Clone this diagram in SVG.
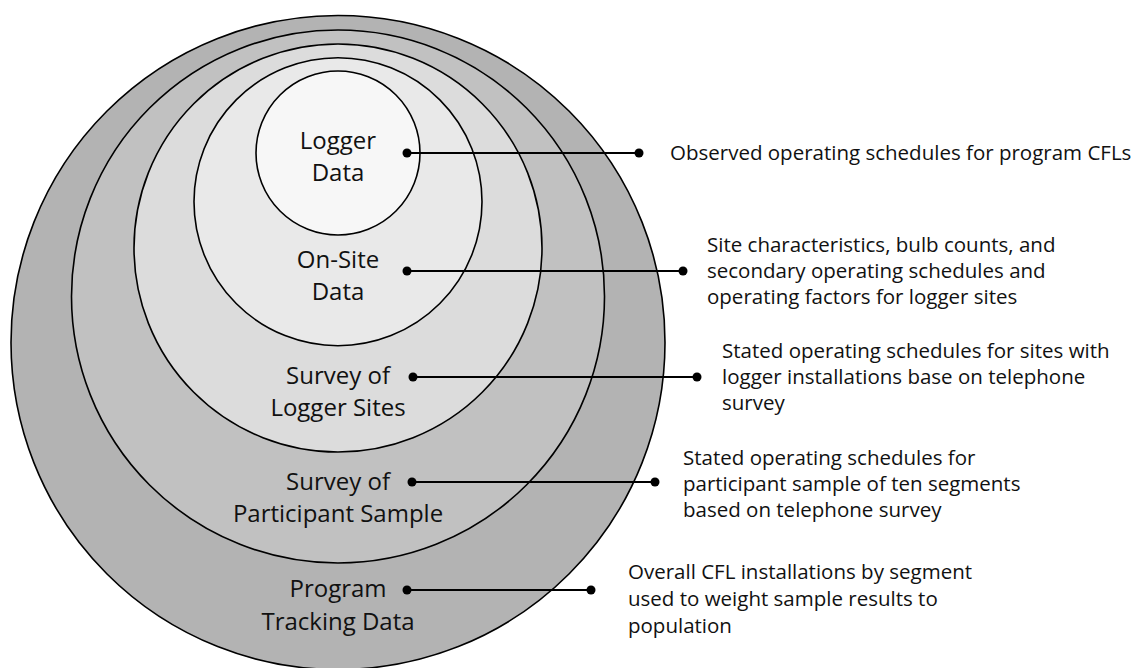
<svg xmlns="http://www.w3.org/2000/svg" width="1145" height="668" viewBox="0 0 1145 668">
  <style>
    .ring { stroke: #000; stroke-width: 1.6; }
    .lbl { font-family: "Open Sans", "Noto Sans", sans-serif; font-size: 24px; fill: #111; text-anchor: middle; }
    .note { font-family: "Open Sans", "Noto Sans", sans-serif; font-size: 20.5px; fill: #111; }
    .wire { stroke: #000; stroke-width: 2; fill: none; }
    .dot { fill: #000; }
  </style>
  <rect width="1145" height="668" fill="#fff"/>

  <!-- nested data-source rings, outermost first -->
  <g id="program-tracking">
    <circle class="ring" cx="338" cy="342.5" r="327" fill="#b3b3b3"/>
    <text class="lbl" x="338" y="597">Program</text>
    <text class="lbl" x="338" y="630">Tracking Data</text>
  </g>
  <g id="participant-survey">
    <circle class="ring" cx="338" cy="296.5" r="266.5" fill="#c1c1c1"/>
    <text class="lbl" x="338" y="490">Survey of</text>
    <text class="lbl" x="338" y="522">Participant Sample</text>
  </g>
  <g id="logger-site-survey">
    <circle class="ring" cx="338" cy="248" r="204" fill="#dcdcdc"/>
    <text class="lbl" x="338" y="384">Survey of</text>
    <text class="lbl" x="338" y="416">Logger Sites</text>
  </g>
  <g id="on-site-data">
    <circle class="ring" cx="338" cy="201.7" r="144" fill="#e9e9e9"/>
    <text class="lbl" x="338" y="268">On-Site</text>
    <text class="lbl" x="338" y="300">Data</text>
  </g>
  <g id="logger-data">
    <circle class="ring" cx="338" cy="153" r="82" fill="#f7f7f7"/>
    <text class="lbl" x="338" y="149">Logger</text>
    <text class="lbl" x="338" y="181">Data</text>
  </g>

  <!-- leader lines from each ring to its description -->
  <g id="connectors">
    <line class="wire" x1="407" y1="153" x2="639" y2="153"/>
    <circle class="dot" cx="407" cy="153" r="4.5"/>
    <circle class="dot" cx="639" cy="153" r="4.5"/>

    <line class="wire" x1="407" y1="271" x2="683" y2="271"/>
    <circle class="dot" cx="407" cy="271" r="4.5"/>
    <circle class="dot" cx="683" cy="271" r="4.5"/>

    <line class="wire" x1="413" y1="377" x2="697" y2="377"/>
    <circle class="dot" cx="413" cy="377" r="4.5"/>
    <circle class="dot" cx="697" cy="377" r="4.5"/>

    <line class="wire" x1="412" y1="482" x2="655" y2="482"/>
    <circle class="dot" cx="412" cy="482" r="4.5"/>
    <circle class="dot" cx="655" cy="482" r="4.5"/>

    <line class="wire" x1="407" y1="590" x2="591" y2="590"/>
    <circle class="dot" cx="407" cy="590" r="4.5"/>
    <circle class="dot" cx="591" cy="590" r="4.5"/>
  </g>

  <!-- descriptions -->
  <g id="note-logger">
    <text class="note" x="670" y="160">Observed operating schedules for program CFLs</text>
  </g>
  <g id="note-onsite">
    <text class="note" x="707" y="252">Site characteristics, bulb counts, and</text>
    <text class="note" x="707" y="278">secondary operating schedules and</text>
    <text class="note" x="707" y="304">operating factors for logger sites</text>
  </g>
  <g id="note-logger-survey">
    <text class="note" x="722" y="358">Stated operating schedules for sites with</text>
    <text class="note" x="722" y="384">logger installations base on telephone</text>
    <text class="note" x="722" y="410">survey</text>
  </g>
  <g id="note-participant">
    <text class="note" x="683" y="465">Stated operating schedules for</text>
    <text class="note" x="683" y="491">participant sample of ten segments</text>
    <text class="note" x="683" y="517">based on telephone survey</text>
  </g>
  <g id="note-tracking">
    <text class="note" x="628" y="579">Overall CFL installations by segment</text>
    <text class="note" x="628" y="606">used to weight sample results to</text>
    <text class="note" x="628" y="633">population</text>
  </g>
</svg>
